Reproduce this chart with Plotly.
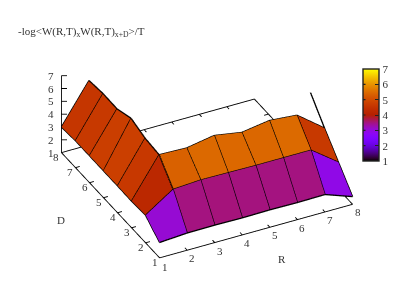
import math

import plotly.graph_objects as go

R_VALUES = [1, 2, 3, 4, 5, 6, 7, 8]
D_VALUES = [1, 2, 3, 4, 5, 6, 7, 8]
Z_TICKS = [1, 2, 3, 4, 5, 6, 7]

# one list per D, one value per R, None where the surface has no data
Z_D1 = [2.2, 2.34, 2.36, 2.33, 2.36, 2.33, 2.36, 1.6]
Z_D2 = [3.15, 4.57, 4.7, 4.67, 4.64, 4.64, 4.64, 3.1]
Z_D3 = [3.08, 6.1, 6.03, 6.41, 6.05, 6.38, 6.2, 4.6]
Z_D4 = [3.1, 6.22, None, None, None, None, None, 6.2]
Z_D5 = [3.1, 6.6, None, None, None, None, None, None]
Z_D6 = [3.1, 6.16, None, None, None, None, None, None]
Z_D7 = [3.1, 6.18, None, None, None, None, None, None]
Z_D8 = [3.0, 6.03, None, None, None, None, None, None]
Z_ROWS = [Z_D1, Z_D2, Z_D3, Z_D4, Z_D5, Z_D6, Z_D7, Z_D8]

TITLE = "-log&lt;W(R,T)<sub>x</sub>W(R,T)<sub>x+D</sub>&gt;/T"
FONT = "Liberation Serif"
TEXT_COLOR = "#333333"
WIDTH = 407  # the page adds an 8px body margin
HEIGHT = 283
SCALE = 1.64
PAD = 0.2  # ranges a little wider than the box, lines on the limit get clipped
BAR_LEFT = 363
BAR_TOP = 69
BAR_HEIGHT = 92


# gnuplot's default pm3d palette (rgbformulae 7,5,15)
def palette():
    stops = []
    for i in range(41):
        t = i / 40
        r = math.sqrt(t)
        g = t**3
        b = max(0, math.sin(2 * math.pi * t))
        stops.append([t, f"rgb({r * 255:.0f},{g * 255:.0f},{b * 255:.0f})"])
    return stops


def px(x):
    return (x - 8) / WIDTH


def py(y):
    return 1 - (y - 8) / HEIGHT


# vertices, faces and cell colours of the surface
index = {}
vx, vy, vz = [], [], []
for j, row in enumerate(Z_ROWS):
    for i, value in enumerate(row):
        if value is not None:
            index[(i, j)] = len(vx)
            vx.append(R_VALUES[i])
            vy.append(D_VALUES[j])
            vz.append(value)

fi, fj, fk, cell = [], [], [], []
for (i, j), a in index.items():
    corners = [(i + 1, j), (i + 1, j + 1), (i, j + 1)]
    if all(c in index for c in corners):
        b, c, d = [index[c] for c in corners]
        mean = (vz[a] + vz[b] + vz[c] + vz[d]) / 4
        fi += [a, a]
        fj += [b, c]
        fk += [c, d]
        cell += [mean, mean]

# mesh lines between neighbouring points
lx, ly, lz = [], [], []
for (i, j), a in index.items():
    for other in [(i + 1, j), (i, j + 1)]:
        if other in index:
            b = index[other]
            lx += [vx[a], vx[b], None]
            ly += [vy[a], vy[b], None]
            lz += [vz[a], vz[b], None]

# base rectangle, z axis and ticks
fx = [1, 8, 8, 1, 1, None, 1, 1]
fy = [1, 1, 8, 8, 1, None, 8, 8]
fz = [1, 1, 1, 1, 1, None, 1, 7]
tick = 0.16
for r in R_VALUES[1:-1]:
    fx += [None, r, r, None, r, r]
    fy += [None, 1, 1 + tick, None, 8, 8 - tick]
    fz += [None, 1, 1, None, 1, 1]
for d in D_VALUES[1:-1]:
    fx += [None, 1, 1 + tick, None, 8, 8 - tick]
    fy += [None, d, d, None, d, d]
    fz += [None, 1, 1, None, 1, 1]
for t in Z_TICKS[1:]:
    fx += [None, 1, 1 + tick]
    fy += [None, 8, 8 - tick / 2]
    fz += [None, t, t]

labels = []
for r in R_VALUES[1:]:
    labels.append(dict(x=r, y=1, z=1, text=str(r), xshift=5, yshift=-8))
for d in D_VALUES:
    labels.append(dict(x=1, y=d, z=1, text=str(d), xshift=-5, yshift=-4))
for t in Z_TICKS:
    labels.append(dict(x=1, y=8, z=t, text=str(t), xshift=-10, yshift=0))
for label in labels:
    label.update(showarrow=False, font=dict(family=FONT, size=11, color=TEXT_COLOR))

fig = go.Figure()
fig.add_trace(
    go.Mesh3d(
        x=vx,
        y=vy,
        z=vz,
        i=fi,
        j=fj,
        k=fk,
        intensity=cell,
        intensitymode="cell",
        cmin=1,
        cmax=7,
        colorscale=palette(),
        flatshading=True,
        lighting=dict(ambient=1, diffuse=0, specular=0, roughness=1, fresnel=0),
        hoverinfo="skip",
        colorbar=dict(
            x=px(BAR_LEFT),
            xanchor="left",
            y=py(BAR_TOP),
            yanchor="top",
            len=BAR_HEIGHT,
            lenmode="pixels",
            thickness=16,
            thicknessmode="pixels",
            xpad=0,
            ypad=0,
            outlinecolor="#222222",
            outlinewidth=1.4,
            borderwidth=0,
            ticks="inside",
            ticklen=4,
            tickcolor="#222222",
            tickvals=Z_TICKS,
            tickfont=dict(family=FONT, size=11, color=TEXT_COLOR),
        ),
    )
)
fig.add_trace(
    go.Scatter3d(
        x=lx,
        y=ly,
        z=lz,
        mode="lines",
        line=dict(color="black", width=2.6),
        hoverinfo="skip",
        showlegend=False,
    )
)
fig.add_trace(
    go.Scatter3d(
        x=fx,
        y=fy,
        z=fz,
        mode="lines",
        line=dict(color="black", width=1.8),
        hoverinfo="skip",
        showlegend=False,
    )
)

# text outside the scene box, and the left ticks the colorbar cannot draw itself
notes = [
    dict(text="R", x=px(282), y=py(259)),
    dict(text="D", x=px(61), y=py(220)),
    dict(text=str(R_VALUES[0]), x=px(165), y=py(267)),
]
for note in notes:
    note.update(xref="paper", yref="paper", xanchor="center", yanchor="middle", showarrow=False)
for t in Z_TICKS[1:-1]:
    notes.append(
        dict(
            text="",
            x=px(BAR_LEFT),
            y=py(BAR_TOP + BAR_HEIGHT * (7 - t) / 6),
            xref="paper",
            yref="paper",
            showarrow=True,
            arrowhead=0,
            arrowwidth=1.2,
            arrowcolor="#222222",
            ax=4,
            ay=0,
        )
    )

hidden = dict(visible=False)
fig.update_layout(
    width=WIDTH,
    height=HEIGHT,
    margin=dict(l=0, r=0, t=0, b=0),
    paper_bgcolor="white",
    font=dict(family=FONT, size=11, color=TEXT_COLOR),
    showlegend=False,
    title=dict(
        text=TITLE,
        x=px(18),
        xanchor="left",
        y=py(31),
        yanchor="middle",
        font=dict(family=FONT, size=11, color=TEXT_COLOR),
    ),
    scene=dict(
        domain=dict(x=[0, 0.978], y=[0.067, 1]),
        xaxis=dict(range=[1 - PAD, 8 + PAD], **hidden),
        yaxis=dict(range=[1 - PAD, 8 + PAD], **hidden),
        zaxis=dict(range=[1 - PAD, 7 + PAD], **hidden),
        aspectmode="manual",
        aspectratio=dict(
            x=SCALE * (7 + 2 * PAD) / 7,
            y=SCALE * (7 + 2 * PAD) / 7,
            z=0.424 * SCALE * (6 + 2 * PAD) / 6,
        ),
        bgcolor="white",
        camera=dict(
            projection=dict(type="orthographic"),
            up=dict(x=0, y=0, z=1),
            center=dict(x=0, y=0, z=0),
            eye=dict(x=-3.8, y=-7.47, z=5.455),
        ),
        annotations=labels,
    ),
    annotations=notes,
)

fig.write_html("out.html")
